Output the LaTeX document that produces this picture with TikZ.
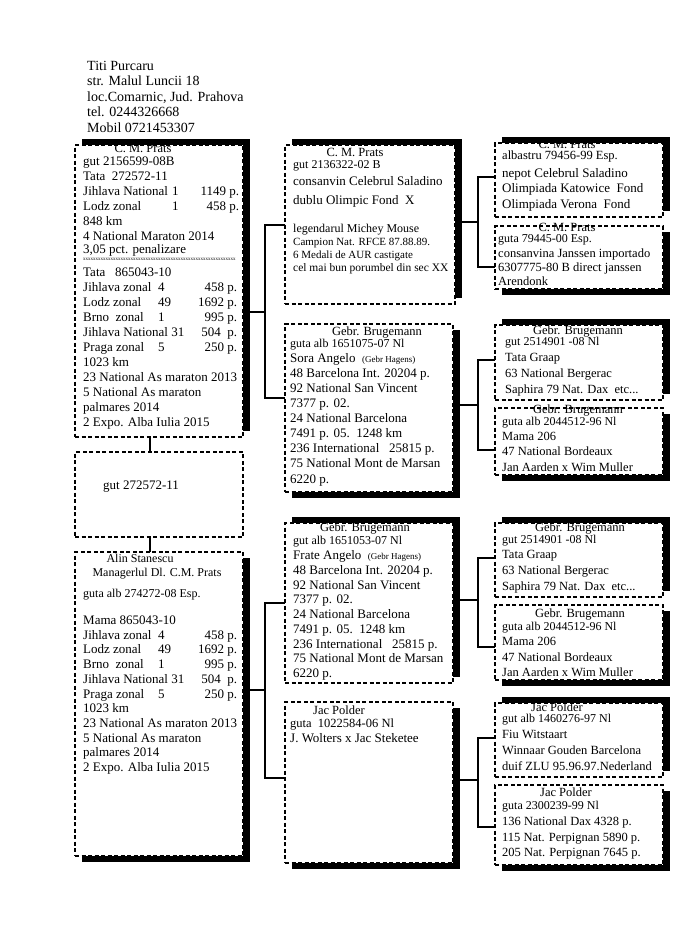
\documentclass[tikz,border=0pt]{standalone}
\usepackage{fontspec}
\setmainfont{Liberation Serif}
\usetikzlibrary{backgrounds}
\newcommand\setfs[1]{\fontsize{#1}{#1}\selectfont}
\newcommand\prow[5]{\makebox[#1pt]{\makebox[#2pt][l]{#3}#4\hfill #5}}
\newcommand\rrow[3]{\makebox[#1pt]{#2\hfill #3}}
\begin{document}
\begin{tikzpicture}[x=1pt,y=-1pt,
  box/.style={draw, dash pattern=on 4pt off 2.5pt, line width=1.3pt, fill=white, inner sep=0pt, outer sep=0pt, anchor=north west, minimum width=168pt},
  txt/.style={inner sep=0pt, anchor=base west, font=\setfs{13}},
  hd/.style={inner sep=0pt, anchor=base, font=\setfs{12.5}},
  conn/.style={line width=1.4pt}]
\useasboundingbox (0,0) rectangle (697,951);

% header
\foreach \Ly/\Lt [count=\i] in {70/Titi Purcaru, 85.5/str. Malul Luncii 18, 101/{loc.Comarnic, Jud. Prahova}, 116.5/tel. 0244326668, 132/Mobil 0721453307}
  \node[txt, font=\setfs{14}] (H-\i) at (87,\Ly) {\Lt};

% boxes
\node[box, minimum height=292pt] (A) at (75,145) {};
\node[box, minimum height=85pt] (B) at (75,452) {};
\node[box, minimum height=304pt] (C) at (75,552) {};
\node[box, minimum width=170pt, minimum height=159pt] (M1) at (285,145) {};
\node[box, minimum height=168pt] (M2) at (285,324) {};
\node[box, minimum height=160pt] (M3) at (285,523) {};
\node[box, minimum height=161pt] (M4) at (285,702) {};
\node[box, minimum height=74pt] (R1) at (495,143) {};
\node[box, minimum height=63pt] (R2) at (495,226) {};
\node[box, minimum height=75pt] (R3) at (495,325) {};
\node[box, minimum height=67pt] (R4) at (495,408) {};
\node[box, minimum height=74pt] (R5) at (495,523) {};
\node[box, minimum height=75pt] (R6) at (495,605) {};
\node[box, minimum height=74pt] (R7) at (495,703) {};
\node[box, minimum height=80pt] (R8) at (495,785) {};

\begin{scope}[on background layer]
\foreach \n in {A,M1,M3,R1,R3,R5,R7}
  \fill ([shift={(7,-6)}]\n.north west) rectangle ([shift={(7,-6)}]\n.south east);
\foreach \n in {C,M2,M4,R2,R4,R6,R8}
  \fill ([shift={(7,6)}]\n.north west) rectangle ([shift={(7,6)}]\n.south east);
\end{scope}

% connectors
\draw[conn] ([xshift=-9pt]A.south) -- ([xshift=-9pt]B.north);
\draw[conn] ([xshift=-9pt]B.south) -- ([xshift=-9pt]C.north);
\coordinate (J1) at (265,312); \coordinate (T1) at (265,225); \coordinate (U1) at (265,398);
\coordinate (J2) at (265,690); \coordinate (T2) at (265,603); \coordinate (U2) at (265,778);
\coordinate (J3) at (478,222); \coordinate (T3) at (478,177); \coordinate (U3) at (478,267);
\coordinate (J4) at (478,405); \coordinate (T4) at (478,360); \coordinate (U4) at (478,450);
\coordinate (J5) at (478,600); \coordinate (T5) at (478,558); \coordinate (U5) at (478,647);
\coordinate (J6) at (478,780); \coordinate (T6) at (478,738); \coordinate (U6) at (478,827);
\draw[conn] (A.east |- J1) -- (J1);
\draw[conn] (M1.west |- T1) -- (T1) -- (U1) -- (M2.west |- U1);
\draw[conn] (C.east |- J2) -- (J2);
\draw[conn] (M3.west |- T2) -- (T2) -- (U2) -- (M4.west |- U2);
\draw[conn] (M1.east |- J3) -- (J3);
\draw[conn] (R1.west |- T3) -- (T3) -- (U3) -- (R2.west |- U3);
\draw[conn] (M2.east |- J4) -- (J4);
\draw[conn] (R3.west |- T4) -- (T4) -- (U4) -- (R4.west |- U4);
\draw[conn] (M3.east |- J5) -- (J5);
\draw[conn] (R5.west |- T5) -- (T5) -- (U5) -- (R6.west |- U5);
\draw[conn] (M4.east |- J6) -- (J6);
\draw[conn] (R7.west |- T6) -- (T6) -- (U6) -- (R8.west |- U6);

% box A
\node[hd] (A-h) at (143,152) {C. M. Prats};
\foreach \Ly/\Lt [count=\i] in {
  165/gut 2156599-08B,
  180/Tata~~272572-11,
  195/{\prow{156}{89}{Jihlava National}{1}{1149 p.}},
  210/{\prow{156}{89}{Lodz zonal}{1}{458 p.}},
  225/848 km,
  240/4 National Maraton 2014,
  253/{3,05 pct. penalizare},
  276.5/Tata~~~865043-10,
  291.5/{\prow{154}{75}{Jihlava zonal}{4}{458 p.}},
  306.5/{\prow{154}{75}{Lodz zonal}{49}{1692 p.}},
  321.5/{\prow{154}{75}{Brno~~zonal}{1}{995 p.}},
  336.5/{\rrow{154}{Jihlava National 31}{504~~p.}},
  351.5/{\prow{154}{75}{Praga zonal}{5}{250 p.}},
  366.5/1023 km,
  381.5/23 National As maraton 2013,
  396.5/5 National As maraton,
  411/palmares 2014,
  426/2 Expo. Alba Iulia 2015}
  \node[txt] (A-\i) at (83,\Ly) {\Lt};
\node[inner sep=0pt, anchor=base west, font=\setfs{5}] (A-x) at (83,260) {xxxxxxxxxxxxxxxxxxxxxxxxxxxxxxxxxxxxxxxxxxxxxxxxxxxxxxxxxxxxx};

% box B
\node[txt] (B-1) at (103,489.5) {gut 272572-11};

% box C
\node[hd, font=\setfs{12}] (C-h1) at (140,562) {Alin Stanescu};
\node[hd, font=\setfs{12}] (C-h2) at (157,576) {Managerlul Dl. C.M. Prats};
\node[txt, font=\setfs{12}] (C-g) at (83,597) {guta alb 274272-08 Esp.};
\foreach \Ly/\Lt [count=\i] in {
  624.5/Mama 865043-10,
  639.2/{\prow{154}{75}{Jihlava zonal}{4}{458 p.}},
  653.9/{\prow{154}{75}{Lodz zonal}{49}{1692 p.}},
  668.6/{\prow{154}{75}{Brno~~zonal}{1}{995 p.}},
  683.3/{\rrow{154}{Jihlava National 31}{504~~p.}},
  698/{\prow{154}{75}{Praga zonal}{5}{250 p.}},
  712.7/1023 km,
  727.4/23 National As maraton 2013,
  742.1/5 National As maraton,
  756.8/palmares 2014,
  771.5/2 Expo. Alba Iulia 2015}
  \node[txt] (C-\i) at (83,\Ly) {\Lt};

% box M1
\node[hd] (M1-h) at (355,156) {C. M. Prats};
\foreach \Ly/\Lt [count=\i] in {
  168.5/{\setfs{12}gut 2136322-02 B},
  185.5/consanvin Celebrul Saladino,
  204.5/dublu Olimpic Fond~~X,
  232.5/{\setfs{12}legendarul Michey Mouse},
  245/{\setfs{11}Campion Nat. RFCE 87.88.89.},
  258/{\setfs{11}6 Medali de AUR castigate},
  271/{\setfs{11.5}cel mai bun porumbel din sec XX}}
  \node[txt] (M1-\i) at (293,\Ly) {\Lt};

% box M2
\node[hd] (M2-h) at (377,335) {Gebr. Brugemann};
\foreach \Ly/\Lt [count=\i] in {
  347.5/{\setfs{12}guta alb 1651075-07 Nl},
  362/{Sora Angelo~~{\setfs{9}(Gebr Hagens)}},
  377/48 Barcelona Int. 20204 p.,
  392.3/92 National San Vincent,
  407.4/7377 p. 02.,
  422.5/24 National Barcelona,
  437.6/7491 p. 05.~~1248 km,
  452.7/236 International~~~25815 p.,
  467.8/75 National Mont de Marsan,
  483/6220 p.}
  \node[txt] (M2-\i) at (290,\Ly) {\Lt};

% box M3
\node[hd] (M3-h) at (365,531.5) {Gebr. Brugemann};
\foreach \Ly/\Lt [count=\i] in {
  544/{\setfs{12}gut alb 1651053-07 Nl},
  559.5/{Frate Angelo~~{\setfs{9}(Gebr Hagens)}},
  574.2/48 Barcelona Int. 20204 p.,
  589/92 National San Vincent,
  603.7/7377 p. 02.,
  618.5/24 National Barcelona,
  633.2/7491 p. 05.~~1248 km,
  648/236 International~~~25815 p.,
  662.7/75 National Mont de Marsan,
  677.5/6220 p.}
  \node[txt] (M3-\i) at (293,\Ly) {\Lt};

% box M4
\node[hd] (M4-h) at (339,714.5) {Jac Polder};
\node[txt, font=\setfs{12.5}] (M4-1) at (290,727) {guta~~1022584-06 Nl};
\node[txt] (M4-2) at (290,742.5) {J. Wolters x Jac Steketee};

% right column
\node[hd] (R1-h) at (567,148) {C. M. Prats};
\foreach \Ly/\Lt [count=\i] in {
  159.5/{\setfs{12.5}albastru 79456-99 Esp.},
  177/nepot Celebrul Saladino,
  192.5/Olimpiada Katowice~~Fond,
  208/Olimpiada Verona~~Fond}
  \node[txt] (R1-\i) at (502,\Ly) {\Lt};

\node[hd] (R2-h) at (567,231) {C. M. Prats};
\foreach \Ly/\Lt [count=\i] in {
  242/{\setfs{12}guta 79445-00 Esp.},
  257.5/{\setfs{12.5}consanvina Janssen importado},
  271.5/{\setfs{12.5}6307775-80 B direct janssen},
  285/{\setfs{12.5}Arendonk}}
  \node[txt] (R2-\i) at (498,\Ly) {\Lt};

\node[hd] (R3-h) at (578,334) {Gebr. Brugemann};
\foreach \Ly/\Lt [count=\i] in {
  345/{\setfs{12}gut 2514901 -08 Nl},
  361.5/Tata Graap,
  377.5/63 National Bergerac}
  \node[txt, font=\setfs{12.5}] (R3-\i) at (505,\Ly) {\Lt};
\node[txt, font=\setfs{12.5}] (R3-4) at (505,393.5) {Saphira 79 Nat. Dax~~etc...};

\node[hd] (R4-h) at (578,413.5) {Gebr. Brugemann};
\foreach \Ly/\Lt [count=\i] in {
  425/{\setfs{12}guta alb 2044512-96 Nl},
  440.5/Mama 206,
  455.5/47 National Bordeaux,
  471.5/Jan Aarden x Wim Muller}
  \node[txt, font=\setfs{12.5}] (R4-\i) at (502,\Ly) {\Lt};

\node[hd] (R5-h) at (580,531.5) {Gebr. Brugemann};
\foreach \Ly/\Lt [count=\i] in {
  543/{\setfs{12}gut 2514901 -08 Nl},
  558.5/Tata Graap,
  574.5/63 National Bergerac}
  \node[txt, font=\setfs{12.5}] (R5-\i) at (502,\Ly) {\Lt};
\node[txt, font=\setfs{12.5}] (R5-4) at (502,590.5) {Saphira 79 Nat. Dax~~etc...};

\node[hd] (R6-h) at (580,617) {Gebr. Brugemann};
\foreach \Ly/\Lt [count=\i] in {
  630/{\setfs{12}guta alb 2044512-96 Nl},
  645.5/Mama 206,
  661.5/47 National Bordeaux,
  676.5/Jan Aarden x Wim Muller}
  \node[txt, font=\setfs{12.5}] (R6-\i) at (502,\Ly) {\Lt};

\node[hd] (R7-h) at (557,711) {Jac Polder};
\foreach \Ly/\Lt [count=\i] in {
  722.5/{\setfs{12}gut alb 1460276-97 Nl},
  738.5/Fiu Witstaart,
  754.5/Winnaar Gouden Barcelona,
  770.5/duif ZLU 95.96.97.Nederland}
  \node[txt, font=\setfs{12.5}] (R7-\i) at (502,\Ly) {\Lt};

\node[hd] (R8-h) at (566,796) {Jac Polder};
\foreach \Ly/\Lt [count=\i] in {
  809.5/{\setfs{12}guta 2300239-99 Nl},
  825.5/136 National Dax 4328 p.,
  841.5/115 Nat. Perpignan 5890 p.,
  856.5/205 Nat. Perpignan 7645 p.}
  \node[txt, font=\setfs{12.5}] (R8-\i) at (502,\Ly) {\Lt};
\end{tikzpicture}
\end{document}
